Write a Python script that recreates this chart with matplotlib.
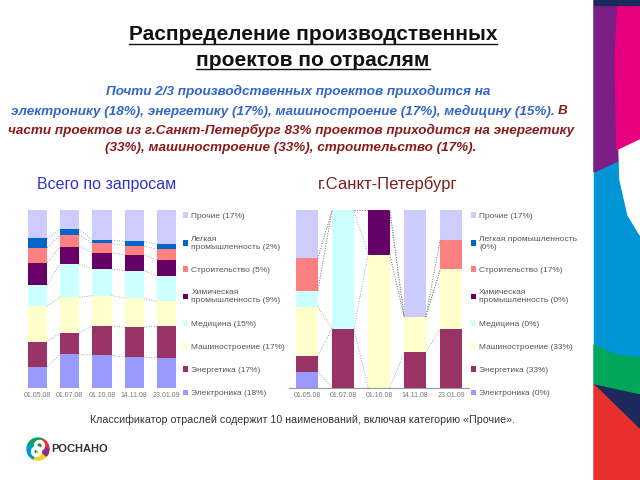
import numpy as np
import matplotlib
matplotlib.use("Agg")
import matplotlib.pyplot as plt
from matplotlib.patches import Polygon, Wedge
from matplotlib.lines import Line2D
from matplotlib.transforms import IdentityTransform

plt.rcParams['font.family'] = ['Liberation Sans', 'DejaVu Sans']

# --- data (shares, %) ---
dates_all = ['01.05.08', '01.07.08', '01.10.08', '14.11.08', '23.01.09']
dates_spb = ['01.05.08', '01.07.08', '01.10.08', '14.11.08', '23.01.09']

sectors = ['Электроника', 'Энергетика', 'Машиностроение', 'Медицина',
           'Химическая промышленность', 'Строительство',
           'Легкая промышленность', 'Прочие']
colors = ['#9999FF', '#993366', '#FFFFCC', '#CCFFFF',
          '#660066', '#FF8080', '#0066CC', '#CCCCFF']

electronics_all = [12.0, 19.0, 18.3, 17.4, 16.8]
energy_all      = [14.0, 12.0, 16.6, 16.8, 17.8]
machine_all     = [20.0, 20.0, 17.0, 16.3, 14.0]
medicine_all    = [12.0, 18.7, 14.8, 15.5, 14.6]
chemical_all    = [12.5, 9.7, 9.3, 8.8, 8.8]
building_all    = [8.4, 6.5, 5.2, 5.0, 6.0]
light_all       = [5.2, 3.4, 1.9, 2.6, 2.8]
other_all       = [15.9, 10.7, 16.9, 17.6, 19.2]

electronics_spb = [9.1, 0.0, 0.0, 0.0, 0.0]
energy_spb      = [9.1, 33.3, 0.0, 20.0, 33.3]
machine_spb     = [27.3, 0.0, 75.0, 20.0, 33.3]
medicine_spb    = [9.1, 66.7, 0.0, 0.0, 0.0]
chemical_spb    = [0.0, 0.0, 25.0, 0.0, 0.0]
building_spb    = [18.2, 0.0, 0.0, 0.0, 16.7]
light_spb       = [0.0, 0.0, 0.0, 0.0, 0.0]
other_spb       = [27.2, 0.0, 0.0, 60.0, 16.7]

labels_all = ['Электроника (18%)', 'Энергетика (17%)', 'Машиностроение (17%)',
              'Медицина (15%)', 'Химическая\nпромышленность (9%)',
              'Строительство (5%)', 'Легкая\nпромышленность (2%)', 'Прочие (17%)']
labels_spb = ['Электроника (0%)', 'Энергетика (33%)', 'Машиностроение (33%)',
              'Медицина (0%)', 'Химическая\nпромышленность (0%)',
              'Строительство (17%)', 'Легкая промышленность\n(0%)', 'Прочие (17%)']

series_all = [electronics_all, energy_all, machine_all, medicine_all,
              chemical_all, building_all, light_all, other_all]
series_spb = [electronics_spb, energy_spb, machine_spb, medicine_spb,
              chemical_spb, building_spb, light_spb, other_spb]

W, H = 640, 480
fig = plt.figure(figsize=(6.4, 4.8), dpi=100)
fig.patch.set_facecolor('white')


def fx(x):
    return x / W


def fy(y):
    return 1 - y / H


def stacked(ax, dates, series, labels, width=0.6, baseline=False, leg_x=1.0):
    x = np.arange(len(dates))
    bottom = np.zeros(len(dates))
    handles = []
    tops = []
    for vals, c, lab in zip(series, colors, labels):
        v = np.array(vals)
        h = ax.bar(x, v, width, bottom=bottom, color=c, edgecolor='none', label=lab)
        handles.append(h)
        bottom = bottom + v
        tops.append(bottom.copy())
    # series lines between bars
    for t in tops[:-1]:
        for i in range(len(x) - 1):
            ax.plot([x[i] + width / 2, x[i + 1] - width / 2], [t[i], t[i + 1]],
                    ls=(0, (1, 2)), color='#888888', lw=0.6)
    ax.set_xlim(-0.5, len(x) - 0.5)
    ax.set_ylim(0, 100)
    ax.set_xticks(x)
    ax.set_xticklabels(dates, fontsize=5, color='#777777')
    ax.tick_params(length=0, pad=3)
    ax.set_yticks([])
    for s in ax.spines.values():
        s.set_visible(False)
    if baseline:
        ax.spines['bottom'].set_visible(True)
        ax.spines['bottom'].set_color('#999999')
        ax.spines['bottom'].set_linewidth(0.8)
    leg = ax.legend(handles[::-1], labels[::-1], loc='upper left',
                    bbox_to_anchor=(leg_x, 1.005), frameon=False, fontsize=6,
                    labelspacing=1.85, handlelength=0.7, handleheight=0.7,
                    handletextpad=0.35, borderaxespad=0)
    for t in leg.get_texts():
        t.set_color('#555555')
    return ax


ax1 = fig.add_axes([fx(21.5), fy(388), fx(161), (388 - 210) / H])
stacked(ax1, dates_all, series_all, labels_all, leg_x=0.98)
ax2 = fig.add_axes([fx(289), fy(388), fx(180), (388 - 210) / H])
stacked(ax2, dates_spb, series_spb, labels_spb, baseline=True, leg_x=0.99)

# titles
t1 = fig.text(fx(313), fy(35), 'Распределение производственных', ha='center',
              va='center', fontsize=15, fontweight='bold', color='#111111')
t2 = fig.text(fx(313), fy(60), 'проектов по отраслям', ha='center',
              va='center', fontsize=15, fontweight='bold', color='#111111')

blue = '#3366CC'
red = '#8B1A1A'
sub = dict(fontsize=9.7, fontweight='bold', style='italic', va='center')
fig.text(fx(298), fy(91), 'Почти 2/3 производственных проектов приходится на',
         ha='center', color=blue, **sub)
fig.text(fx(555), fy(111),
         'электронику (18%), энергетику (17%), машиностроение (17%), медицину (15%).',
         ha='right', color=blue, **sub)
fig.text(fx(558), fy(111), 'В', ha='left', color=red, **sub)
fig.text(fx(291), fy(130),
         'части проектов из г.Санкт-Петербург 83% проектов приходится на энергетику',
         ha='center', color=red, **sub)
fig.text(fx(291), fy(148), '(33%), машиностроение (33%), строительство (17%).',
         ha='center', color=red, **sub)

fig.text(fx(37), fy(184), 'Всего по запросам', ha='left', va='center',
         fontsize=11.5, color='#3333CC')
fig.text(fx(318), fy(184), 'г.Санкт-Петербург', ha='left', va='center',
         fontsize=12, color='#7B1F1F')

fig.text(fx(302), fy(420),
         'Классификатор отраслей содержит 10 наименований, включая категорию «Прочие».',
         ha='center', va='center', fontsize=7.7, color='#333333')

# logo
idt = IdentityTransform()
cx, cy, r = 38, H - 449, 11
for a0, a1, c in [(0, 70, '#E8312F'), (70, 160, '#00A651'), (160, 250, '#0096D6'),
                  (250, 320, '#F7D117'), (320, 360, '#8E2C8E')]:
    fig.patches.append(Wedge((cx, cy), r, a0, a1, color=c, transform=idt))
fig.patches.append(Wedge((cx + 1.5, cy + 3.5), 5, 0, 360, width=2.2, color='white',
                         transform=idt))
fig.patches.append(Wedge((cx - 1.5, cy - 2.5), 5, 0, 360, width=2.2, color='white',
                         transform=idt))
fig.text(fx(51), fy(449), 'РОСНАНО', ha='left', va='center', fontsize=8,
         fontweight='bold', color='#333333')

# right decorative band
def poly(pts, c):
    fig.patches.append(Polygon([(x, H - y) for x, y in pts], closed=True,
                               color=c, transform=idt))

poly([(594, 0), (640, 0), (640, 480), (594, 480)], '#0096D6')
poly([(594, 0), (640, 0), (640, 140), (620, 160), (594, 172)], '#7B1F86')
poly([(618, 5), (640, 0), (640, 150), (617, 150), (615, 60)], '#E6007E')
poly([(594, 0), (640, 0), (640, 5), (594, 5)], '#1B2A5A')
poly([(619, 150), (640, 140), (640, 235), (628, 215), (620, 180)], 'white')
poly([(594, 345), (615, 355), (640, 358), (640, 395), (594, 385)], '#00A65A')
poly([(594, 385), (640, 395), (640, 430)], '#1B2A5A')
poly([(594, 385), (640, 430), (640, 480), (594, 480)], '#E8312F')

# underline the title lines
fig.canvas.draw()
rend = fig.canvas.get_renderer()
for t in (t1, t2):
    bb = t.get_window_extent(rend)
    fig.add_artist(Line2D([bb.x0, bb.x1], [bb.y0 + 1, bb.y0 + 1], color='#111111',
                          lw=1.0, transform=idt))

fig.savefig('out.png', dpi=100)
